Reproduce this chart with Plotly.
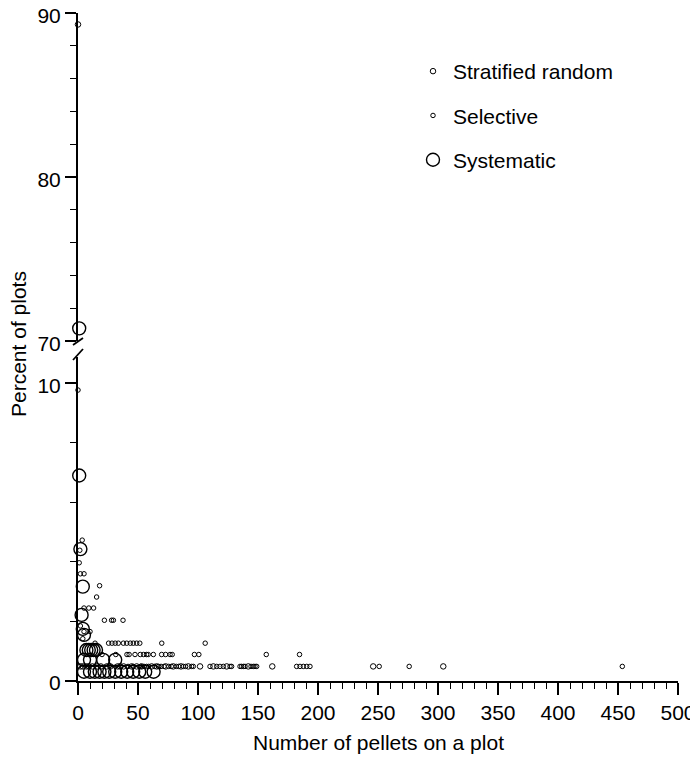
import plotly.graph_objects as go

# ---------------- data ----------------
strat_x = [0, 2, 4, 7, 9, 12, 16, 19, 24, 27, 33, 35, 38, 44.7, 48.9, 53, 61.4, 65.6,
           73.1, 79.4, 85.8, 91.9, 101.7, 112.8, 123.9, 141.9, 161.9, 246, 304.4]
strat_y = [89.3] + [0.49] * 28

sel_x = ([0, 3.5, 1.5, 1, 2, 5, 18, 15.5, 5, 9, 13, 22, 28, 29.5, 37.5, 2, 5, 10, 4]
         + [41.7, 46, 52.2, 55, 57.2, 58.9, 63.9, 67.2, 69.2, 71.7, 75.6, 77.8, 81.9, 83.9,
            87.8, 89.7, 94.7, 96.1, 110, 115.6, 118.3, 121.1, 126.7, 128, 135, 136.4, 138,
            139.2, 144.2, 146.1, 147.5, 148.9, 182.2, 185, 187.8, 190.6, 193.3, 251, 276, 453.6]
         + [20, 31.5, 40.8, 42.6, 47.5, 51.9, 54.7, 57.1, 58.5, 62.8, 69.7, 73, 76.7, 78.5,
            97, 100.7, 156.9, 184.6]
         + [14.2, 25.5, 28.3, 31, 33.6, 37.8, 40.6, 43.6, 46.1, 48.9, 51.5, 69.8, 106])
sel_y = ([9.77, 4.73, 4.39, 3.97, 3.6, 3.6, 3.2, 2.82, 2.45, 2.45, 2.45, 2.04, 2.04, 2.04,
          2.04, 1.85, 1.66, 1.66, 1.42]
         + [0.49] * 40
         + [0.89] * 18
         + [1.27] * 13)

sys_x = [1, 1, 2, 4, 3, 4, 5, 7, 9, 11, 13, 15, 5, 10, 21, 31,
         5, 10, 14, 18, 22, 26, 31, 36, 41, 46, 51, 56, 63]
sys_y = [70.77, 6.9, 4.43, 3.17, 2.22, 1.75, 1.55, 1.04, 1.04, 1.04, 1.04, 1.04,
         0.71, 0.71, 0.71, 0.71] + [0.31] * 13

series = [
    ("Stratified random", strat_x, strat_y, 5.5, 1.0),
    ("Selective", sel_x, sel_y, 4.5, 1.0),
    ("Systematic", sys_x, sys_y, 13, 1.4),
]

x_ticks = list(range(0, 501, 50))
BREAK = 50  # values above go to the upper panel

# ---------------- figure ----------------
OFF = 8                      # page body margin
W, H = 698 - OFF, 757 - OFF
PL, PT, PR, PB = 78, 13, 678, 681   # plot area in window pixels
L, T = PL - OFF, PT - OFF
R, B = W - (PR - OFF), H - (PB - OFF)


def py(pix):  # window pixel y -> paper y
    return (PB - pix) / (PB - PT)


def px(pix):
    return (pix - PL) / (PR - PL)


fig = go.Figure()
for name, xs, ys, size, lw in series:
    lo = [(a, b) for a, b in zip(xs, ys) if b < BREAK]
    hi = [(a, b) for a, b in zip(xs, ys) if b >= BREAK]
    mk = dict(symbol="circle-open", size=size, color="black",
              line=dict(width=lw, color="black"))
    fig.add_trace(go.Scatter(x=[p[0] for p in lo], y=[p[1] for p in lo], mode="markers",
                             name=name, legendgroup=name, marker=mk, cliponaxis=False,
                             xaxis="x", yaxis="y"))
    if hi:
        fig.add_trace(go.Scatter(x=[p[0] for p in hi], y=[p[1] for p in hi], mode="markers",
                                 name=name, legendgroup=name, showlegend=False, marker=mk,
                                 cliponaxis=False, xaxis="x", yaxis="y2"))

font = dict(family="Arial, Liberation Sans, sans-serif", size=21, color="black")
axis_common = dict(showgrid=False, zeroline=False, showline=True, linecolor="black",
                   linewidth=2, ticks="outside", tickcolor="black", tickwidth=1.5,
                   tickfont=font, automargin=False, ticklabeloverflow="allow")

fig.update_layout(
    width=W, height=H,
    margin=dict(l=L, r=R, t=T, b=B, autoexpand=False),
    paper_bgcolor="white", plot_bgcolor="white",
    font=font,
    xaxis=dict(range=[0, 500], tickvals=x_ticks, ticklen=12, anchor="y",
               minor=dict(dtick=10, ticklen=6, ticks="outside", tickcolor="black",
                          tickwidth=1.2),
               **axis_common),
    yaxis=dict(range=[0, 10.88], domain=[0, py(357)], tickvals=[0, 10], ticklen=11,
               anchor="x", ticklabelshift=2,
               minor=dict(tickvals=[2, 4, 6, 8], ticklen=6, ticks="outside",
                          tickcolor="black", tickwidth=1.2),
               **axis_common),
    yaxis2=dict(range=[70, 90], domain=[py(341), 1], tickvals=[70, 80, 90], ticklen=11,
                anchor="x", ticklabelshift=3,
                minor=dict(dtick=2, tick0=70, ticklen=6, ticks="outside",
                           tickcolor="black", tickwidth=1.2),
                **axis_common),
    showlegend=True,
    legend=dict(x=px(413), y=py(51), xanchor="left", yanchor="top",
                bgcolor="rgba(0,0,0,0)", font=font, tracegroupgap=14,
                itemsizing="trace"),
    annotations=[
        dict(text="Percent of plots", x=px(18), y=py(344), xref="paper", yref="paper",
             showarrow=False, textangle=-90, font=font, xanchor="center",
             yanchor="middle"),
        dict(text="Number of pellets on a plot", x=0.5, y=py(742), xref="paper",
             yref="paper", showarrow=False, font=font, xanchor="center",
             yanchor="middle"),
    ],
    shapes=[
        dict(type="line", xref="paper", yref="paper", x0=px(73), y0=py(345), x1=px(83),
             y1=py(338), line=dict(color="black", width=1.8)),
        dict(type="line", xref="paper", yref="paper", x0=px(73), y0=py(360), x1=px(83),
             y1=py(349), line=dict(color="black", width=1.8)),
    ],
)

fig.write_html("out.html")
